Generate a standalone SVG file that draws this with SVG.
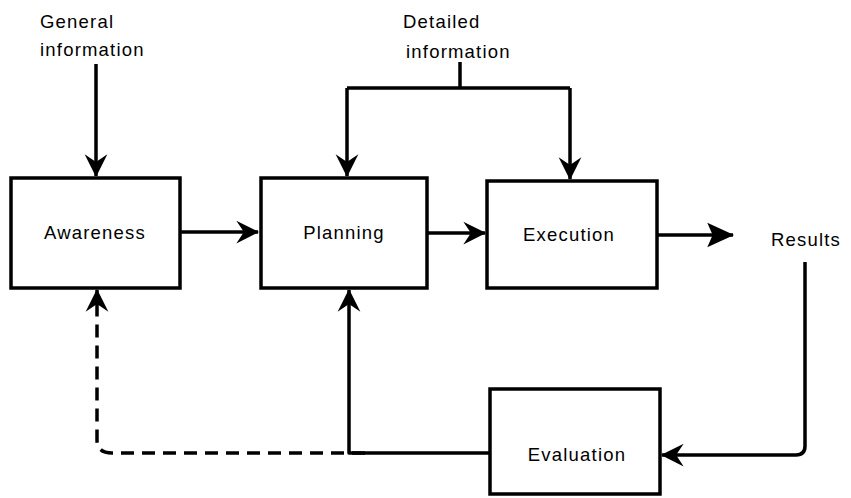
<svg xmlns="http://www.w3.org/2000/svg" width="851" height="498" viewBox="0 0 851 498">
<style>
.box{fill:#fff;stroke:#000;stroke-width:3.5}
.ln{fill:none;stroke:#000;stroke-width:3.5;stroke-linejoin:round}
.dash{stroke-dasharray:13 8}
text{font-family:"Liberation Sans","DejaVu Sans",sans-serif;font-size:18.5px;letter-spacing:1.2px;fill:#000}
.c{text-anchor:middle}
</style>
<defs>
<marker id="ah" markerUnits="userSpaceOnUse" markerWidth="26" markerHeight="26" viewBox="-22 -12 24 24" refX="0" refY="0" orient="auto">
<path d="M1,0 L-20,-10.5 L-13,0 L-20,10.5 Z" fill="#000"/>
</marker>
<marker id="ahb" markerUnits="userSpaceOnUse" markerWidth="30" markerHeight="30" viewBox="-26 -13 28 26" refX="0" refY="0" orient="auto">
<path d="M1,0 L-24,-11.5 L-19,0 L-24,11.5 Z" fill="#000"/>
</marker>
</defs>
<g id="connectors">
<path class="ln" d="M96,64 V176" marker-end="url(#ah)"/>
<path class="ln" d="M460,62 V88 M347,88 H570" />
<path class="ln" d="M347,88 V176" marker-end="url(#ah)"/>
<path class="ln" d="M570,88 V179" marker-end="url(#ah)"/>
<path class="ln" d="M181,232 H258" marker-end="url(#ah)"/>
<path class="ln" d="M427,233 H485" marker-end="url(#ah)"/>
<path class="ln" d="M657,235 H733" marker-end="url(#ahb)"/>
<path class="ln" d="M805,262 V446 Q805,455 796,455 H662" marker-end="url(#ah)"/>
<path class="ln" d="M490,453 H349 V290" marker-end="url(#ah)"/>
<path class="ln dash" d="M365,453 H112 Q97,453 97,440 V290" marker-end="url(#ah)"/>
</g>
<g id="awareness"><rect class="box" x="11" y="178" width="169" height="110"/><text class="c" x="95" y="239">Awareness</text></g>
<g id="planning"><rect class="box" x="261" y="178" width="166" height="110"/><text class="c" x="344" y="239">Planning</text></g>
<g id="execution"><rect class="box" x="487" y="181" width="170" height="107"/><text class="c" x="569" y="241">Execution</text></g>
<g id="evaluation"><rect class="box" x="490" y="389" width="170" height="105"/><text class="c" x="577" y="461">Evaluation</text></g>
<g id="results"><text class="c" x="806" y="246">Results</text></g>
<g id="general"><text x="40" y="28">General</text><text x="40" y="56">information</text></g>
<g id="detailed"><text x="403" y="28">Detailed</text><text x="406" y="58">information</text></g>
</svg>
